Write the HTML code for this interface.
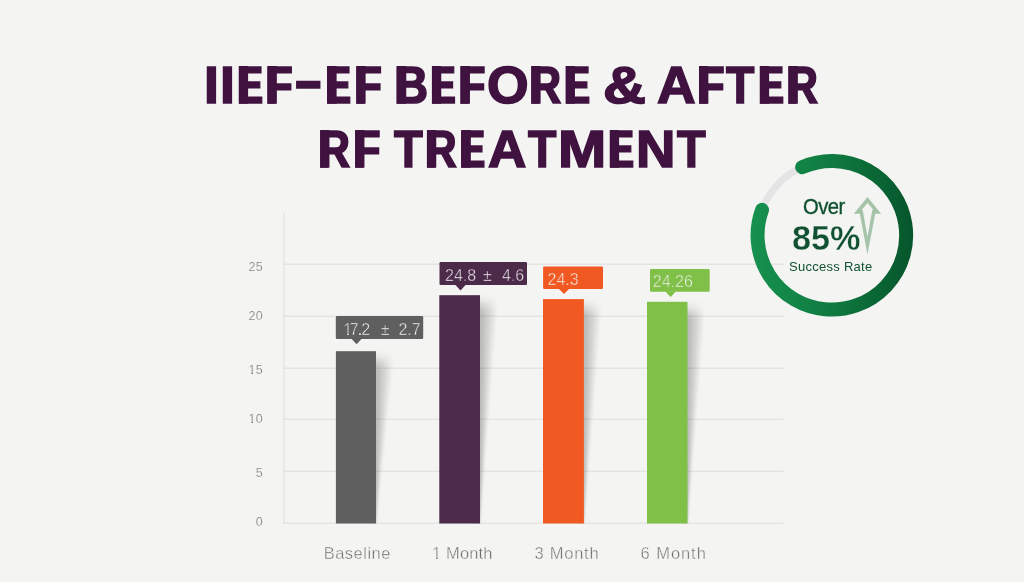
<!DOCTYPE html>
<html lang="en">
<head>
<meta charset="utf-8">
<title>IIEF-EF Before &amp; After RF Treatment</title>
<style>
  html, body { margin: 0; padding: 0; }
  body {
    width: 1024px; height: 585px; overflow: hidden;
    background: #ffffff;
    font-family: "Liberation Sans", sans-serif;
  }
  #stage {
    position: relative; width: 1024px; height: 585px; overflow: hidden;
    background: #ffffff;
  }
  #bg { position: absolute; left: 0; top: 0; width: 1024px; height: 582px; background: #f4f4f2; }
  #shapes { position: absolute; left: 0; top: 0; }
  .t { position: absolute; white-space: nowrap; line-height: 1; margin: 0; opacity: 0.999; }
  .title {
    position: absolute; left: 0; width: 1024px; height: 60px; margin: 0;
    font-weight: bold; color: #3f1240; line-height: 1; white-space: pre;
  }
  .title .c {
    position: absolute; top: 0; display: block; line-height: 1;
    transform-origin: 0 0;
    -webkit-text-stroke: 1.6px #3f1240;
  }
  .ylab { color: #7c7c7c; font-size: 12.5px; text-align: right; width: 30px; letter-spacing: 0.3px; -webkit-text-stroke: 0.2px #f4f4f2; }
  .xlab { color: #6c6c6c; font-size: 16.5px; text-align: center; width: 120px; -webkit-text-stroke: 0.4px #f4f4f2; }
  .val  { color: #f4f4f4; font-size: 16px; }
  .val .v { position: absolute; top: 0; white-space: pre; }
  .g { color: #0f5130; }
  .fx { position: absolute; display: block; background: #f4f4f2; }
</style>
</head>
<body>
<div id="stage">
  <div id="bg"></div>

  <svg id="shapes" width="1024" height="585" viewBox="0 0 1024 585">
    <defs>
      <linearGradient id="ringGrad" gradientUnits="userSpaceOnUse" x1="751" y1="0" x2="914" y2="0">
        <stop offset="0" stop-color="#17914f"/>
        <stop offset="0.5" stop-color="#0f7a40"/>
        <stop offset="1" stop-color="#06552b"/>
      </linearGradient>
      <clipPath id="shClip"><rect x="0" y="0" width="1024" height="523.5"/></clipPath>
      <filter id="blur1" x="-50%" y="-15%" width="200%" height="130%">
        <feGaussianBlur stdDeviation="0.8 6"/>
      </filter>
    </defs>

    <!-- bar shadows -->
    <g clip-path="url(#shClip)"><g filter="url(#blur1)" fill="#222527" fill-opacity="0.0369">
      <polygon points="370.0,360.2 378.12,360.2 376.2,523.5 370.0,523.5"/>
      <polygon points="370.0,360.2 380.25,360.2 376.2,523.5 370.0,523.5"/>
      <polygon points="370.0,360.2 382.38,360.2 376.2,523.5 370.0,523.5"/>
      <polygon points="370.0,360.2 384.50,360.2 376.2,523.5 370.0,523.5"/>
      <polygon points="370.0,360.2 386.62,360.2 376.2,523.5 370.0,523.5"/>
      <polygon points="370.0,360.2 388.75,360.2 376.2,523.5 370.0,523.5"/>
      <polygon points="370.0,360.2 390.88,360.2 376.2,523.5 370.0,523.5"/>
      <polygon points="370.0,360.2 393.00,360.2 376.2,523.5 370.0,523.5"/>
      <polygon points="474.0,304.2 482.12,304.2 480.2,523.5 474.0,523.5"/>
      <polygon points="474.0,304.2 484.25,304.2 480.2,523.5 474.0,523.5"/>
      <polygon points="474.0,304.2 486.38,304.2 480.2,523.5 474.0,523.5"/>
      <polygon points="474.0,304.2 488.50,304.2 480.2,523.5 474.0,523.5"/>
      <polygon points="474.0,304.2 490.62,304.2 480.2,523.5 474.0,523.5"/>
      <polygon points="474.0,304.2 492.75,304.2 480.2,523.5 474.0,523.5"/>
      <polygon points="474.0,304.2 494.88,304.2 480.2,523.5 474.0,523.5"/>
      <polygon points="474.0,304.2 497.00,304.2 480.2,523.5 474.0,523.5"/>
      <polygon points="577.9,308.1 586.02,308.1 584.1,523.5 577.9,523.5"/>
      <polygon points="577.9,308.1 588.15,308.1 584.1,523.5 577.9,523.5"/>
      <polygon points="577.9,308.1 590.27,308.1 584.1,523.5 577.9,523.5"/>
      <polygon points="577.9,308.1 592.40,308.1 584.1,523.5 577.9,523.5"/>
      <polygon points="577.9,308.1 594.52,308.1 584.1,523.5 577.9,523.5"/>
      <polygon points="577.9,308.1 596.65,308.1 584.1,523.5 577.9,523.5"/>
      <polygon points="577.9,308.1 598.77,308.1 584.1,523.5 577.9,523.5"/>
      <polygon points="577.9,308.1 600.90,308.1 584.1,523.5 577.9,523.5"/>
      <polygon points="681.5,310.8 689.62,310.8 687.7,523.5 681.5,523.5"/>
      <polygon points="681.5,310.8 691.75,310.8 687.7,523.5 681.5,523.5"/>
      <polygon points="681.5,310.8 693.88,310.8 687.7,523.5 681.5,523.5"/>
      <polygon points="681.5,310.8 696.00,310.8 687.7,523.5 681.5,523.5"/>
      <polygon points="681.5,310.8 698.12,310.8 687.7,523.5 681.5,523.5"/>
      <polygon points="681.5,310.8 700.25,310.8 687.7,523.5 681.5,523.5"/>
      <polygon points="681.5,310.8 702.38,310.8 687.7,523.5 681.5,523.5"/>
      <polygon points="681.5,310.8 704.50,310.8 687.7,523.5 681.5,523.5"/>
    </g></g>

    <!-- grid -->
    <g stroke="#000" stroke-opacity="0.062" stroke-width="1.4" fill="none">
      <line x1="284" y1="264.2" x2="783.8" y2="264.2"/>
      <line x1="284" y1="316.2" x2="783.8" y2="316.2"/>
      <line x1="284" y1="368.2" x2="783.8" y2="368.2"/>
      <line x1="284" y1="419.2" x2="783.8" y2="419.2"/>
      <line x1="284" y1="471.2" x2="783.8" y2="471.2"/>
      <line x1="284" y1="523.2" x2="783.8" y2="523.2"/>
      <line x1="284" y1="213" x2="284" y2="524"/>
    </g>

    <!-- bars -->
    <rect x="335.9" y="351.2" width="40.1" height="172.3" fill="#5f5f5f"/>
    <rect x="439.3" y="295.2" width="40.7" height="228.3" fill="#4c2a49"/>
    <rect x="543" y="299.1" width="40.9" height="224.4" fill="#f05a22"/>
    <rect x="647" y="301.8" width="40.5" height="221.7" fill="#80c049"/>

    <!-- value tags -->
    <g fill="#5f5f5f">
      <rect x="335.8" y="316.1" width="87.4" height="22.9" rx="1.2"/>
      <polygon points="351.2,338.5 362,338.5 356.6,344.3"/>
    </g>
    <g fill="#4c2a49">
      <rect x="439.5" y="262.1" width="87.5" height="22.8" rx="1.2"/>
      <polygon points="455,284.4 466,284.4 460.5,290.4"/>
    </g>
    <g fill="#f05a22">
      <rect x="543.1" y="266.4" width="59.9" height="22.6" rx="1.2"/>
      <polygon points="558.4,288.5 569.6,288.5 564,294.1"/>
    </g>
    <g fill="#80c049">
      <rect x="650" y="268.9" width="59.7" height="22.8" rx="1.2"/>
      <polygon points="665.2,291.2 676,291.2 670.6,296.9"/>
    </g>

    <!-- success ring -->
    <path d="M760.08,216.07 A74.3,74.3 0 0 1 808.89,164.64" fill="none" stroke="#e4e4e4" stroke-width="7"/>
    <path id="arc" d="M802.22,167.16 A74.3,74.3 0 1 1 762.03,209.89" fill="none" stroke="url(#ringGrad)" stroke-width="14" stroke-linecap="round"/>

<!--STEMS-->
    <g id="stems" fill="#3f1240">
      <rect x="238.75" y="66.00" width="9.35" height="37.75"/>
      <rect x="267.50" y="66.00" width="9.35" height="37.75"/>
      <rect x="327.25" y="66.00" width="9.35" height="37.75"/>
      <rect x="356.25" y="66.00" width="9.35" height="37.75"/>
      <rect x="396.90" y="66.00" width="9.35" height="37.75"/>
      <rect x="431.90" y="66.00" width="9.35" height="37.75"/>
      <rect x="460.60" y="66.00" width="9.35" height="37.75"/>
      <rect x="531.25" y="66.00" width="9.35" height="37.75"/>
      <rect x="565.60" y="66.00" width="9.35" height="37.75"/>
      <rect x="699.00" y="66.00" width="9.35" height="37.75"/>
      <rect x="759.75" y="66.00" width="9.35" height="37.75"/>
      <rect x="788.50" y="66.00" width="9.35" height="37.75"/>
      <rect x="320.10" y="130.10" width="9.35" height="37.60"/>
      <rect x="355.10" y="130.10" width="9.35" height="37.60"/>
      <rect x="426.90" y="130.10" width="9.35" height="37.60"/>
      <rect x="461.50" y="130.10" width="9.35" height="37.60"/>
      <rect x="609.75" y="130.10" width="9.35" height="37.60"/>
    </g>
<!--/STEMS-->
    <!-- arrow -->
    <path fill="#a4c3a8" fill-rule="evenodd"
      d="M867.5,197 L881.1,213.7 L875.2,213.7 L867.45,254.3 L859.85,213.7 L853.8,213.7 Z
         M867.5,203.1 L873.1,209.6 L872.2,210.4 L867.45,236.9 L862.8,210.4 L862,209.6 Z"/>
  </svg>

  <!-- title -->
<!--TITLE-->
  <div class="title" id="t1" style="top:59.36px;font-size:52.54px;"><span class="c" style="left:204.48px;transform:scaleX(1.0198)">I</span><span class="c" style="left:219.98px;transform:scaleX(1.0198)">I</span><span class="c" style="left:236.71px;transform:scaleX(0.7513)">E</span><span class="c" style="left:265.14px;transform:scaleX(0.8706)">F</span><span class="c" style="left:293.55px;top:-6.69px;transform:scale(1.6330,1.0369)">-</span><span class="c" style="left:325.21px;transform:scaleX(0.7513)">E</span><span class="c" style="left:353.87px;transform:scaleX(0.8759)">F</span> <span class="c" style="left:394.45px;transform:scaleX(0.9021)">B</span><span class="c" style="left:429.88px;transform:scaleX(0.7433)">E</span><span class="c" style="left:458.26px;transform:scaleX(0.8635)">F</span><span class="c" style="left:486.72px;transform:scaleX(1.0181)">O</span><span class="c" style="left:528.94px;transform:scaleX(0.8511)">R</span><span class="c" style="left:563.56px;transform:scaleX(0.7529)">E</span> <span class="c" style="left:603.04px;transform:scaleX(1.1308)">&amp;</span> <span class="c" style="left:656.98px;transform:scaleX(1.0176)">A</span><span class="c" style="left:696.65px;transform:scaleX(0.8670)">F</span><span class="c" style="left:726.44px;transform:scaleX(0.8835)">T</span><span class="c" style="left:757.71px;transform:scaleX(0.7513)">E</span><span class="c" style="left:786.20px;transform:scaleX(0.8468)">R</span></div>
  <div class="title" id="t2" style="top:122.60px;font-size:52.33px;"><span class="c" style="left:317.80px;transform:scaleX(0.8516)">R</span><span class="c" style="left:352.76px;transform:scaleX(0.8669)">F</span> <span class="c" style="left:393.69px;transform:scaleX(0.9009)">T</span><span class="c" style="left:424.62px;transform:scaleX(0.8430)">R</span><span class="c" style="left:459.45px;transform:scaleX(0.7591)">E</span><span class="c" style="left:487.59px;transform:scaleX(1.0135)">A</span><span class="c" style="left:528.29px;transform:scaleX(0.8885)">T</span><span class="c" style="left:558.26px;transform:scaleX(1.1064)">M</span><span class="c" style="left:607.71px;transform:scaleX(0.7543)">E</span><span class="c" style="left:635.93px;transform:scaleX(1.0429)">N</span><span class="c" style="left:677.09px;transform:scaleX(0.8978)">T</span></div>
<!--/TITLE-->

  <!-- y axis labels -->
  <div class="t ylab" style="left:233.1px; top:261.4px;">25</div>
  <div class="t ylab" style="left:233.1px; top:309.6px;">20</div>
  <div class="t ylab" style="left:233.1px; top:364px;">15</div>
  <div class="t ylab" style="left:233.1px; top:412.8px;">10</div>
  <div class="t ylab" style="left:233.1px; top:466.8px;">5</div>
  <div class="t ylab" style="left:233.1px; top:515.9px;">0</div>

  <!-- x axis labels -->
  <div class="t xlab" style="left:297.3px; top:545.3px; letter-spacing:0.5px;">Baseline</div>
  <div class="t xlab" style="left:402.3px; top:545.3px; letter-spacing:0.14px;">1 Month</div>
  <div class="t xlab" style="left:506.9px; top:545.3px; letter-spacing:0.75px;">3 Month</div>
  <div class="t xlab" style="left:613.7px; top:545.3px; letter-spacing:0.93px;">6 Month</div>

  <!-- bar values -->
  <div class="t val" style="left:0; top:321.5px; -webkit-text-stroke:0.45px #5f5f5f;"><span class="v" style="left:343.3px;"><span style="letter-spacing:-2.5px;">1</span><span style="letter-spacing:-0.95px;">7<span style="-webkit-text-stroke:0;">.</span>2</span></span>  <span class="v" style="left:380.8px;">±</span> <span class="v" style="left:398.4px;">2.7</span></div>
  <div class="t val" style="left:0; top:267.6px; -webkit-text-stroke:0.45px #4c2a49;"><span class="v" style="left:445px;">24.8</span> <span class="v" style="left:483.1px;">±</span>  <span class="v" style="left:501.9px;">4.6</span></div>
  <div class="t val" style="left:0; top:271.6px; -webkit-text-stroke:0.45px #f05a22;"><span class="v" style="left:547.5px;">24.3</span></div>
  <div class="t val" style="left:0; top:273.8px; -webkit-text-stroke:0.45px #80c049;"><span class="v" style="left:652.8px;">24.26</span></div>

  <!-- ring text -->
  <div class="t g" style="left:803.4px; top:196px; font-size:22px; letter-spacing:-0.6px; transform-origin:0 0; transform:scaleX(0.92); -webkit-text-stroke:0.35px #0f5130;">Over</div>
  <div class="t g" style="left:792px; top:221px; font-size:35.8px; font-weight:bold; transform-origin:0 0; transform:scaleX(0.957); -webkit-text-stroke:0.4px #f4f4f2;">85%</div>
  <div class="t g" style="left:789px; top:260px; font-size:13px; letter-spacing:0.27px;">Success Rate</div>
  <!-- hide the foot serif of the "1" glyph (reference font has a plain 1) -->
  <span class="fx" style="left:343.5px; top:332.7px; width:3.5px; height:2.6px; background:#5f5f5f;"></span>
  <span class="fx" style="left:349.05px; top:332.7px; width:2.6px; height:2.6px; background:#5f5f5f;"></span>
  <span class="fx" style="left:432.5px; top:556.7px; width:3.5px; height:2.6px;"></span>
  <span class="fx" style="left:438.05px; top:556.7px; width:3.2px; height:2.6px;"></span>
  <span class="fx" style="left:248.5px; top:372.7px; width:2.5px; height:1.6px;"></span>
  <span class="fx" style="left:253.05px; top:372.7px; width:2.3px; height:1.6px;"></span>
  <span class="fx" style="left:248.5px; top:421.7px; width:2.5px; height:1.6px;"></span>
  <span class="fx" style="left:253.05px; top:421.7px; width:2.3px; height:1.6px;"></span>
</div>

</body>
</html>
